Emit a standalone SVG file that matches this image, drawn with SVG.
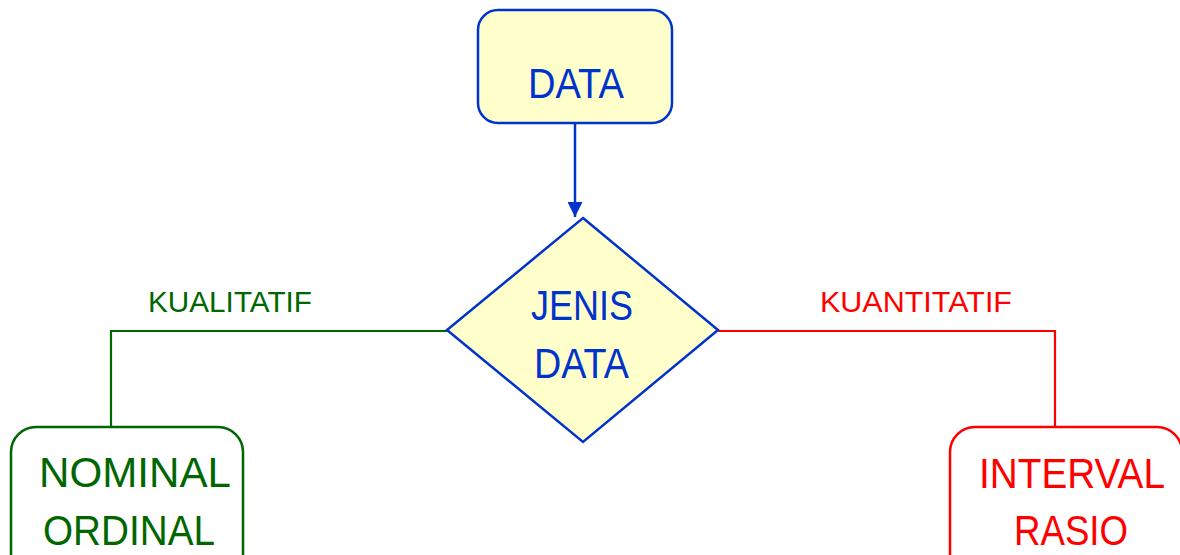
<svg xmlns="http://www.w3.org/2000/svg" width="1180" height="555" viewBox="0 0 1180 555">
  <style>
    text { font-family: "Liberation Sans", Arial, sans-serif; }
    .blue-shape { fill: #FFFFCC; stroke: #0033CC; stroke-width: 2.5; }
    .blue-text { fill: #0033CC; font-size: 42px; }
    .green-box { fill: #FFFFFF; stroke: #006600; stroke-width: 2.5; }
    .green-text { fill: #006600; font-size: 42px; }
    .red-box { fill: #FFFFFF; stroke: #FF0000; stroke-width: 2.5; }
    .red-text { fill: #FF0000; font-size: 42px; }
    .label { font-size: 30px; }
  </style>
  <defs>
    <marker id="arrow-blue" markerWidth="15" markerHeight="15" refX="15" refY="7.5" orient="auto" markerUnits="userSpaceOnUse">
      <path d="M0,0 L15,7.5 L0,15 Z" fill="#0033CC"/>
    </marker>
  </defs>

  <rect width="1180" height="555" fill="#FFFFFF"/>

  <!-- connectors -->
  <g id="connectors" fill="none">
    <line x1="575" y1="123" x2="575" y2="217" stroke="#0033CC" stroke-width="2.5" marker-end="url(#arrow-blue)"/>
    <polyline points="447,331 111,331 111,427" stroke="#006600" stroke-width="2.2"/>
    <polyline points="718,331 1055,331 1055,427" stroke="#FF0000" stroke-width="2.2"/>
    <text class="label" x="148" y="312" fill="#006600" stroke="none" textLength="164" lengthAdjust="spacingAndGlyphs">KUALITATIF</text>
    <text class="label" x="820" y="312" fill="#FF0000" stroke="none" textLength="192" lengthAdjust="spacingAndGlyphs">KUANTITATIF</text>
  </g>

  <!-- source node -->
  <g id="node-data">
    <rect class="blue-shape" x="478" y="10" width="194" height="113" rx="20" ry="20"/>
    <text class="blue-text" x="528" y="98" textLength="96" lengthAdjust="spacingAndGlyphs">DATA</text>
  </g>

  <!-- decision node -->
  <g id="node-jenis-data">
    <polygon class="blue-shape" points="583,218 718,330 583,442 447,330"/>
    <text class="blue-text" x="531" y="320" textLength="102" lengthAdjust="spacingAndGlyphs">JENIS</text>
    <text class="blue-text" x="534" y="378" textLength="95" lengthAdjust="spacingAndGlyphs">DATA</text>
  </g>

  <!-- qualitative branch -->
  <g id="node-kualitatif">
    <rect class="green-box" x="11" y="427" width="232" height="160" rx="25" ry="25"/>
    <text class="green-text" x="39" y="487" textLength="192" lengthAdjust="spacingAndGlyphs">NOMINAL</text>
    <text class="green-text" x="43" y="545" textLength="172" lengthAdjust="spacingAndGlyphs">ORDINAL</text>
  </g>

  <!-- quantitative branch -->
  <g id="node-kuantitatif">
    <rect class="red-box" x="950" y="427" width="232" height="160" rx="25" ry="25"/>
    <text class="red-text" x="979" y="488" textLength="186" lengthAdjust="spacingAndGlyphs">INTERVAL</text>
    <text class="red-text" x="1014" y="545" textLength="114" lengthAdjust="spacingAndGlyphs">RASIO</text>
  </g>
</svg>
